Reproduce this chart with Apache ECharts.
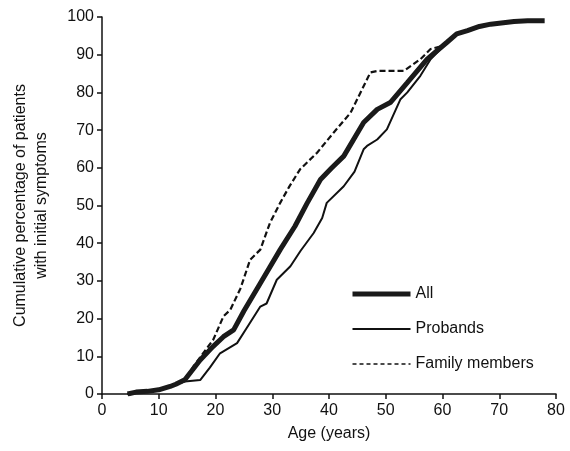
<!DOCTYPE html>
<html>
<head>
<meta charset="utf-8">
<script src="https://cdn.jsdelivr.net/npm/echarts@6/dist/echarts.min.js"></script>
<style>
html, body { margin: 0; padding: 0; background: #fff; }
#chart { width: 570px; height: 451px; }
</style>
</head>
<body>
<div id="chart"></div>
<script>
// Cumulative % with initial symptoms: [age, percent]
const allData = [
	[4.5, 0], [6, 0.5], [8, 0.7], [10, 1.1], [12, 2], [13, 2.6], [14.6, 3.8],
	[17.3, 9], [19.5, 12.5], [21.4, 15.2], [23.2, 17], [25, 22], [27.9, 29.4],
	[31.4, 38.3], [34, 44.5], [36.1, 50.5], [38.5, 56.9], [40.5, 60], [42.6, 63.1],
	[46.1, 72], [48.5, 75.5], [50.8, 77.3], [53.8, 82.6], [57.3, 88.8], [60.8, 93.3],
	[62.5, 95.5], [64.4, 96.4], [66.5, 97.5], [68.5, 98.1], [72.6, 98.8], [75, 99],
	[78, 99]
];
const probandData = [
	[4.5, 0], [6, 0.5], [8, 0.7], [10, 1.1], [12, 2], [13, 2.6], [14.6, 3.3],
	[17.3, 3.7], [19, 7], [20.8, 10.8], [23.8, 13.5], [25.5, 17.5], [27.9, 23.2],
	[29, 24], [30.8, 30.3], [33.2, 33.9], [35, 38], [37.3, 42.7], [38.8, 46.7],
	[39.6, 50.7], [42.6, 55.1], [44.5, 59], [46.1, 64.9], [46.7, 65.8], [48.5, 67.5],
	[50.2, 70.2], [52.6, 78.2], [53.8, 80], [56.1, 84.4], [57.9, 88.8], [60.8, 93.3]
];
const familyData = [
	[4.5, 0], [6, 0.5], [8, 0.7], [10, 1.1], [12, 2], [13, 2.6], [14.6, 3.8],
	[16.1, 7.3], [19.6, 14.4], [21.4, 20.6], [22.6, 22.3], [24.4, 28], [26.1, 35.6],
	[27.9, 38.3], [29.6, 45.4], [31.4, 50.7], [33, 55], [34.9, 59.6], [37.9, 64],
	[40.8, 69.3], [43.8, 74.6], [47.3, 85.3], [48.5, 85.7], [53.2, 85.7], [56.1, 88.8],
	[57.9, 91.5], [60.2, 92.4], [61.5, 94]
];
const seriesNames = ["All", "Probands", "Family members"];

const ink = "#111";
const font = "Liberation Sans, Arial, sans-serif";

const chart = echarts.init(document.getElementById("chart"));
chart.setOption({
	animation: false,
	backgroundColor: "#fff",
	textStyle: { fontFamily: font, color: ink },
	grid: { left: 102, right: 14, top: 17, bottom: 57, containLabel: false },
	legend: {
		orient: "vertical",
		left: 345,
		top: 281,
		itemWidth: 58,
		itemHeight: 14,
		itemGap: 19,
		data: [
			{ name: seriesNames[0], lineStyle: { width: 5, color: "#1a1a1a" } },
			{ name: seriesNames[1], lineStyle: { width: 2, color: ink } },
			{ name: seriesNames[2], lineStyle: { width: 1.6, color: ink, type: [4, 3] } }
		],
		itemStyle: { opacity: 0 },
		textStyle: { fontSize: 16, color: ink, fontFamily: font }
	},
	xAxis: {
		type: "value",
		min: 0,
		max: 80,
		interval: 10,
		name: "Age (years)",
		nameLocation: "middle",
		nameGap: 32,
		nameTextStyle: { fontSize: 16, color: ink, fontFamily: font },
		axisLine: { show: true, onZero: false, lineStyle: { color: ink, width: 1.5 } },
		axisTick: { show: true, length: 5, inside: false, lineStyle: { color: ink, width: 1.5 } },
		axisLabel: { fontSize: 16, color: ink, margin: 9, fontFamily: font },
		splitLine: { show: false }
	},
	yAxis: {
		type: "value",
		min: 0,
		max: 100,
		interval: 10,
		name: "Cumulative percentage of patients\nwith initial symptoms",
		nameLocation: "middle",
		nameGap: 50,
		nameTextStyle: { fontSize: 16, color: ink, lineHeight: 21, fontFamily: font },
		axisLine: { show: true, lineStyle: { color: ink, width: 1.5 } },
		axisTick: { show: true, length: 5, inside: false, lineStyle: { color: ink, width: 1.5 } },
		axisLabel: { fontSize: 16, color: ink, margin: 8, fontFamily: font },
		splitLine: { show: false }
	},
	series: [
		{
			name: "Probands",
			type: "line",
			data: probandData,
			symbol: "none",
			lineStyle: { color: ink, width: 2 },
			itemStyle: { color: ink },
			z: 2
		},
		{
			name: "Family members",
			type: "line",
			data: familyData,
			symbol: "none",
			lineStyle: { color: ink, width: 2.2, type: [6, 3] },
			itemStyle: { color: ink },
			z: 2
		},
		{
			name: "All",
			type: "line",
			data: allData,
			symbol: "none",
			lineStyle: { color: "#1a1a1a", width: 5 },
			itemStyle: { color: "#1a1a1a" },
			z: 3
		}
	]
});
</script>
</body>
</html>
